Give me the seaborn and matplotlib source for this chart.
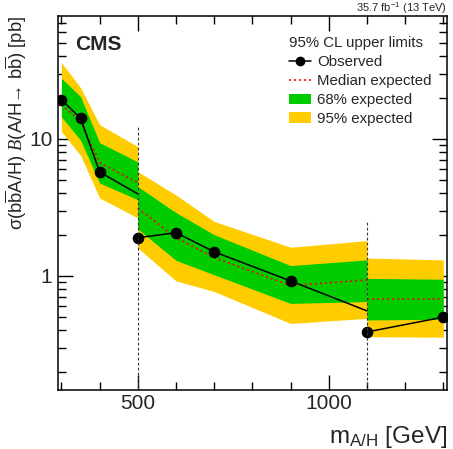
import numpy as np
import pandas as pd
import matplotlib
matplotlib.use("Agg")
import matplotlib.pyplot as plt
import seaborn as sns
from matplotlib.lines import Line2D
from matplotlib.patches import Patch
from matplotlib.ticker import FixedLocator, MultipleLocator, NullFormatter, LogLocator

sns.set_theme(style="ticks")
plt.rcParams["font.family"] = ["Liberation Sans", "DejaVu Sans"]
plt.rcParams.update({
    "mathtext.fontset": "custom",
    "mathtext.rm": "Liberation Sans",
    "mathtext.it": "Liberation Serif:italic",
    "mathtext.bf": "Liberation Sans:bold",
    "axes.linewidth": 1.1,
})

GREEN = "#00CC00"
YELLOW = "#FFCC00"

# ── Données : trois sous-domaines de masse (GeV) ──────────────
MASS_SR1 = [300, 350, 400, 500]
MASS_SR2 = [500, 600, 700, 900, 1100]
MASS_SR3 = [1100, 1300]

OBS_SR1 = [19.3, 14.2, 5.74, 3.97]
OBS_SR2 = [1.90, 2.07, 1.50, 0.92, 0.556]
OBS_SR3 = [0.39, 0.50]
OBS_MARK_SR1 = [True, True, True, False]
OBS_MARK_SR2 = [True, True, True, True, False]
OBS_MARK_SR3 = [True, True]

EXP_SR1 = [17.8, 13.5, 6.7, 4.8]
EXP_SR2 = [3.12, 1.90, 1.36, 0.85, 0.935]
EXP_SR3 = [0.676, 0.676]

P1S_SR1 = [27.7, 20.4, 9.4, 6.8]
P1S_SR2 = [4.49, 2.90, 2.00, 1.19, 1.31]
P1S_SR3 = [0.96, 0.946]
M1S_SR1 = [14.5, 9.8, 4.77, 3.6]
M1S_SR2 = [2.20, 1.30, 1.02, 0.63, 0.65]
M1S_SR3 = [0.477, 0.483]

P2S_SR1 = [36.1, 23.7, 12.7, 8.8]
P2S_SR2 = [5.77, 3.90, 2.50, 1.62, 1.81]
P2S_SR3 = [1.35, 1.31]
M2S_SR1 = [11.3, 7.6, 3.71, 2.65]
M2S_SR2 = [1.60, 0.92, 0.77, 0.45, 0.49]
M2S_SR3 = [0.36, 0.357]

BOUNDARY_MASS = [500, 1100]
BOUNDARY_TOP = [12.7, 2.5]

X_RANGE = (291, 1310)
Y_RANGE = (0.147, 79)


def make_segment(mass, obs, mark, exp, p1, m1, p2, m2):
    return pd.DataFrame({"mass": mass, "obs": obs, "mark": mark, "exp": exp,
                         "p1": p1, "m1": m1, "p2": p2, "m2": m2})


segments = [
    make_segment(MASS_SR1, OBS_SR1, OBS_MARK_SR1, EXP_SR1, P1S_SR1, M1S_SR1, P2S_SR1, M2S_SR1),
    make_segment(MASS_SR2, OBS_SR2, OBS_MARK_SR2, EXP_SR2, P1S_SR2, M1S_SR2, P2S_SR2, M2S_SR2),
    make_segment(MASS_SR3, OBS_SR3, OBS_MARK_SR3, EXP_SR3, P1S_SR3, M1S_SR3, P2S_SR3, M2S_SR3),
]

fig = plt.figure(figsize=(4.53, 4.49), dpi=100)
ax = fig.add_axes([0.128, 0.1314, 0.859, 0.833])

for seg in segments:
    ax.fill_between(seg["mass"], seg["m2"], seg["p2"], color=YELLOW, lw=0, zorder=1)
    ax.fill_between(seg["mass"], seg["m1"], seg["p1"], color=GREEN, lw=0, zorder=2)
    sns.lineplot(data=seg, x="mass", y="exp", ax=ax, color="red", lw=1.3,
                 linestyle=(0, (1.0, 1.8)), sort=False, legend=False, zorder=3)
    sns.lineplot(data=seg, x="mass", y="obs", ax=ax, color="black", lw=1.1,
                 sort=False, legend=False, zorder=4)
    sns.scatterplot(data=seg[seg["mark"]], x="mass", y="obs", ax=ax, color="black",
                    s=70, edgecolor="black", linewidth=0, legend=False, zorder=5)

ax.vlines(BOUNDARY_MASS, Y_RANGE[0], BOUNDARY_TOP, colors="#333333",
          linestyles=(0, (2.5, 2)), lw=0.8, zorder=6)

ax.set_yscale("log")
ax.set_xlim(*X_RANGE)
ax.set_ylim(*Y_RANGE)

ax.xaxis.set_major_locator(FixedLocator([500, 1000]))
ax.xaxis.set_minor_locator(MultipleLocator(100))
ax.set_yticks([1, 10], ["1", "10"])
ax.yaxis.set_minor_locator(LogLocator(base=10, subs=np.arange(2, 10)))
ax.yaxis.set_minor_formatter(NullFormatter())
ax.tick_params(which="both", direction="in", top=True, right=True,
               width=1.0, color="black", labelsize=15)
ax.tick_params(which="major", length=11)
ax.tick_params(which="minor", length=6)
ax.tick_params(axis="x", which="major", pad=3)
ax.tick_params(axis="y", which="major", pad=4)
for s in ax.spines.values():
    s.set_color("black")

ax.set_xlabel(r"m$_{\mathrm{A/H}}$ [GeV]", fontsize=17.5, loc="right")
ax.xaxis.set_label_coords(1.0, -0.09)
ax.set_ylabel(r"σ(b$\overline{\mathrm{b}}$A/H) $\mathit{B}$(A/H→ b$\overline{\mathrm{b}}$) [pb]",
              fontsize=13.2, loc="top")
ax.yaxis.set_label_coords(-0.074, 1.0)

ax.text(0.044, 0.948, "CMS", transform=ax.transAxes, fontsize=15,
        fontweight="bold", ha="left", va="top")
ax.text(1.0, 1.0, r"35.7 fb$^{-1}$ (13 TeV)", transform=ax.transAxes,
        fontsize=8, ha="right", va="bottom")

handles = [
    Line2D([], [], color="black", lw=1.1, marker="o", markersize=6),
    Line2D([], [], color="red", lw=1.3, linestyle=(0, (1.0, 1.8))),
    Patch(facecolor=GREEN, edgecolor="none"),
    Patch(facecolor=YELLOW, edgecolor="none"),
]
labels = ["Observed", "Median expected", "68% expected", "95% expected"]
leg = ax.legend(handles, labels, title="95% CL upper limits", loc="upper left",
                bbox_to_anchor=(0.593, 0.946), frameon=False, fontsize=10.8,
                title_fontsize=10.8, alignment="left", handlelength=1.5,
                handletextpad=0.4, labelspacing=0.33, borderaxespad=0,
                borderpad=0)

fig.savefig("out.png", dpi=100)
plt.close(fig)
